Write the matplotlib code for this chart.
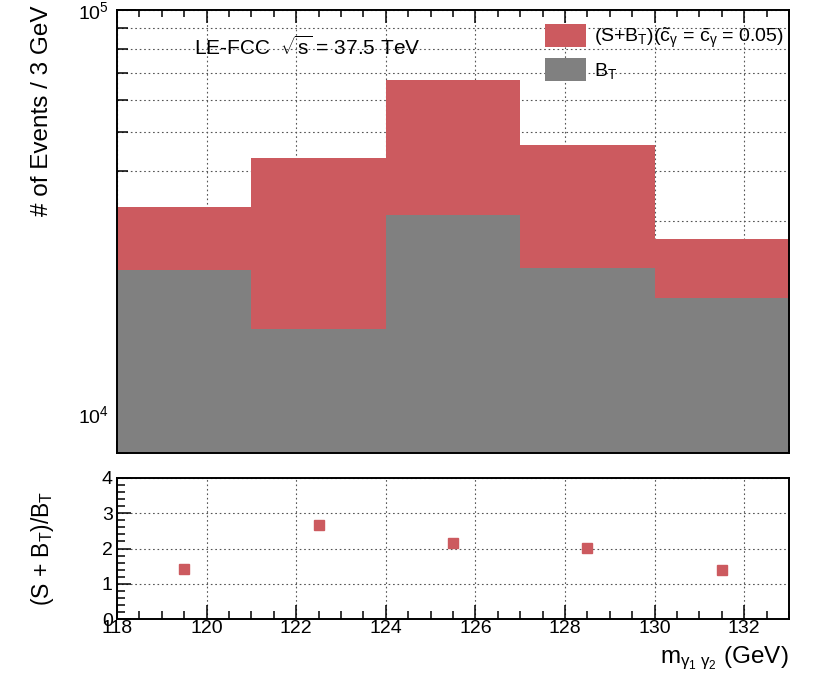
import matplotlib
matplotlib.use("Agg")
import matplotlib.pyplot as plt
import numpy as np
from matplotlib.ticker import MultipleLocator, LogLocator, NullFormatter

plt.rcParams['font.family'] = ['Liberation Sans', 'DejaVu Sans']
plt.rcParams['mathtext.fontset'] = 'custom'
plt.rcParams['mathtext.rm'] = 'Liberation Sans'
plt.rcParams['mathtext.it'] = 'Liberation Sans'
plt.rcParams['mathtext.bf'] = 'Liberation Sans:bold'
plt.rcParams['mathtext.sf'] = 'Liberation Sans'

# data
bin_edges = [118, 121, 124, 127, 130, 133]
sb_counts = [32500, 43000, 67000, 46300, 27100]   # (S+B_T)
b_counts = [22700, 16200, 31100, 23000, 19400]    # B_T
bin_centers = [119.5, 122.5, 125.5, 128.5, 131.5]
ratio = [1.43, 2.66, 2.16, 2.02, 1.40]

red = '#cc5a5f'
gray = '#808080'

fig = plt.figure(figsize=(8.31, 6.83), dpi=100)
W, H = 831, 683
ax1 = fig.add_axes([117 / W, 1 - 453 / H, 672 / W, 443 / H])
ax2 = fig.add_axes([117 / W, 1 - 619 / H, 672 / W, 141 / H])

# top panel
ax1.set_yscale('log')
ax1.stairs(sb_counts, bin_edges, fill=True, baseline=1, color=red,
           label=r'$(S$+$B_{T})(\tilde{c}_{\gamma}$ = $\bar{c}_{\gamma}$ = 0.05)', zorder=2)
ax1.stairs(b_counts, bin_edges, fill=True, baseline=1, color=gray, label=r'$B_{T}$', zorder=3)
ax1.set_xlim(118, 133)
ax1.set_ylim(8000, 1e5)
ax1.set_axisbelow(True)
ax1.xaxis.set_major_locator(MultipleLocator(2))
ax1.xaxis.set_minor_locator(MultipleLocator(0.5))
ax1.yaxis.set_major_locator(LogLocator(base=10, numticks=10))
ax1.yaxis.set_minor_locator(LogLocator(base=10, subs=np.arange(2, 10), numticks=20))
ax1.yaxis.set_minor_formatter(NullFormatter())
ax1.tick_params(axis='x', which='both', labelbottom=False, direction='in', top=True, bottom=True)
ax1.tick_params(axis='x', which='major', length=9, width=1.1)
ax1.tick_params(axis='x', which='minor', length=5, width=1.1)
ax1.tick_params(axis='y', which='major', direction='in', length=14, width=1.1, labelsize=14, pad=6)
ax1.tick_params(axis='y', which='minor', direction='in', length=8, width=1.1)
ax1.grid(True, which='major', axis='x', linestyle=(0, (1.5, 2.5)), color='#555555', linewidth=0.8)
ax1.grid(True, which='both', axis='y', linestyle=(0, (1.5, 2.5)), color='#555555', linewidth=0.8)
for s in ax1.spines.values():
    s.set_linewidth(1.4)
    s.set_zorder(5)

ax1.text(0.115, 0.915, r'LE-FCC  $\sqrt{s}$ = 37.5 TeV', transform=ax1.transAxes,
         fontsize=15, ha='left', va='center', zorder=6)

leg = ax1.legend(loc='upper left', bbox_to_anchor=(0.625, 0.985), frameon=False,
                 fontsize=14, handlelength=2.1, handleheight=1.4, labelspacing=0.42,
                 handletextpad=0.45, borderaxespad=0)
leg.set_zorder(6)

fig.text(42 / W, 1 - 5 / H, '# of Events / 3 GeV', rotation=90, ha='center', va='top', fontsize=17.5)

# bottom panel
ax2.plot(bin_centers, ratio, linestyle='none', marker='s', markersize=6.5, color=red, zorder=4)
ax2.set_xlim(118, 133)
ax2.set_ylim(0, 4)
ax2.set_axisbelow(True)
ax2.xaxis.set_major_locator(MultipleLocator(2))
ax2.xaxis.set_minor_locator(MultipleLocator(0.5))
ax2.yaxis.set_major_locator(MultipleLocator(1))
ax2.yaxis.set_minor_locator(MultipleLocator(0.2))
ax2.tick_params(axis='both', which='major', direction='in', length=10, width=1.1, labelsize=14)
ax2.tick_params(axis='both', which='minor', direction='in', length=6, width=1.1)
ax2.tick_params(axis='x', which='major', pad=1)
ax2.tick_params(axis='y', which='major', pad=3)
ax2.grid(True, which='major', linestyle=(0, (1.5, 2.5)), color='#555555', linewidth=0.8)
for s in ax2.spines.values():
    s.set_linewidth(1.4)

fig.text(42 / W, 1 - 548 / H, r'$(S$ + $B_{T})/B_{T}$', rotation=90, ha='center', va='center', fontsize=16.5)
fig.text(789 / W, 1 - 658 / H, r'$m_{\gamma_{1}\ \gamma_{2}}$ (GeV)', ha='right', va='center', fontsize=17.5)

fig.savefig('out.png', dpi=100)
